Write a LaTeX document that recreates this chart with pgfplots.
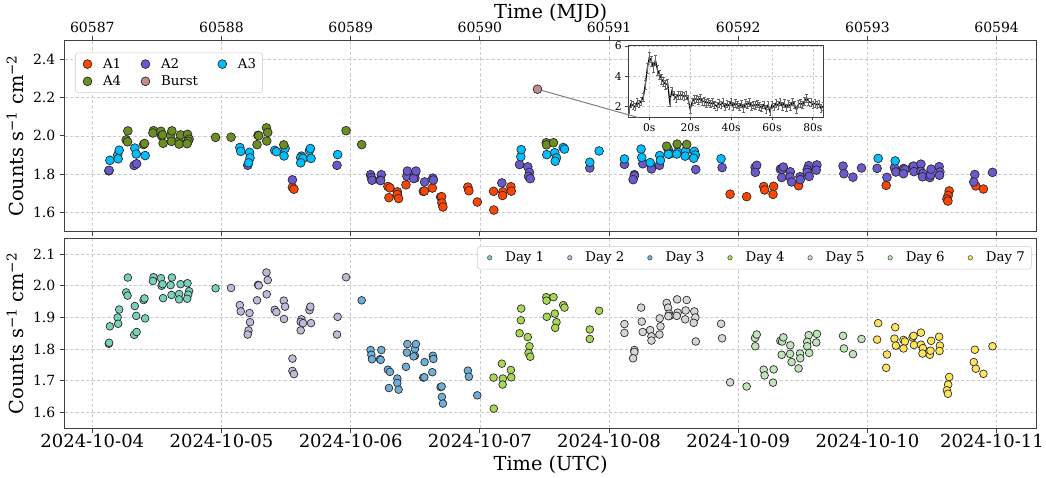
\documentclass[border=0pt]{standalone}
\usepackage{fontspec}
\setmainfont{DejaVu Serif}
\usepackage{pgfplots}
\usepackage{pgfplotstable}
\pgfplotsset{compat=1.18}
\definecolor{cA1}{HTML}{FF4500}
\definecolor{cA2}{HTML}{6A5ACD}
\definecolor{cA3}{HTML}{00BFFF}
\definecolor{cA4}{HTML}{6B8E23}
\definecolor{cB}{HTML}{BC8F8F}
\definecolor{d1}{HTML}{79D0BA}
\definecolor{d2}{HTML}{BEBADA}
\definecolor{d3}{HTML}{6FAED6}
\definecolor{d4}{HTML}{A6D854}
\definecolor{d5}{HTML}{D6D6D6}
\definecolor{d6}{HTML}{BFE4B8}
\definecolor{d7}{HTML}{FFE35A}
% t = days since 2024-10-04 00:00 UTC (= MJD - 60587), y = counts, c = class (A1..A4), d = day
\pgfplotstableread{
t y c d
0.128 1.817 2 1
0.130 1.820 2 1
0.136 1.872 3 1
0.196 1.900 3 1
0.200 1.880 3 1
0.208 1.925 3 1
0.275 2.026 4 1
0.262 1.979 4 1
0.273 1.969 4 1
0.329 1.936 3 1
0.340 1.905 3 1
0.324 1.845 2 1
0.343 1.854 2 1
0.397 1.955 4 1
0.404 1.960 4 1
0.409 1.897 3 1
0.474 2.027 4 1
0.469 2.015 4 1
0.531 2.024 4 1
0.536 2.000 4 1
0.544 2.005 4 1
0.548 1.961 4 1
0.606 2.002 4 1
0.616 2.026 4 1
0.613 1.971 4 1
0.672 1.974 4 1
0.672 1.957 4 1
0.683 2.005 4 1
0.737 2.008 4 1
0.749 1.983 4 1
0.742 1.972 4 1
0.734 1.959 4 1
0.954 1.992 4 1
1.074 1.993 4 2
1.142 1.939 3 2
1.149 1.919 3 2
1.217 1.914 3 2
1.221 1.885 3 2
1.209 1.859 3 2
1.203 1.846 2 2
1.283 2.003 4 2
1.288 2.001 4 2
1.275 1.954 4 2
1.348 2.042 4 2
1.358 2.018 4 2
1.350 1.973 4 2
1.412 1.924 3 2
1.425 1.917 3 2
1.482 1.953 4 2
1.492 1.934 3 2
1.484 1.895 3 2
1.619 1.894 3 2
1.613 1.886 3 2
1.631 1.882 3 2
1.613 1.859 3 2
1.681 1.923 3 2
1.688 1.934 3 2
1.693 1.882 3 2
1.549 1.770 2 2
1.549 1.731 1 2
1.561 1.721 1 2
1.899 1.902 3 2
1.894 1.846 2 2
1.964 2.027 4 2
2.085 1.954 4 3
2.154 1.797 2 3
2.160 1.782 2 3
2.165 1.768 2 3
2.237 1.797 2 3
2.227 1.768 2 3
2.232 1.766 2 3
2.288 1.735 1 3
2.304 1.728 1 3
2.361 1.707 1 3
2.361 1.693 1 3
2.296 1.677 1 3
2.371 1.672 1 3
2.428 1.744 1 3
2.435 1.789 2 3
2.439 1.816 2 3
2.497 1.800 2 3
2.497 1.779 2 3
2.487 1.777 2 3
2.505 1.816 2 3
2.572 1.759 2 3
2.636 1.779 2 3
2.640 1.769 2 3
2.632 1.727 1 3
2.562 1.710 1 3
2.570 1.711 1 3
2.696 1.680 1 3
2.704 1.682 1 3
2.706 1.649 1 3
2.714 1.628 1 3
2.907 1.732 1 3
2.915 1.713 1 3
2.980 1.654 1 3
3.108 1.612 1 4
3.106 1.710 1 4
3.178 1.707 1 4
3.176 1.688 1 4
3.170 1.754 2 4
3.240 1.734 1 4
3.243 1.711 1 4
3.307 1.850 2 4
3.317 1.891 3 4
3.320 1.928 3 4
3.371 1.838 2 4
3.384 1.809 2 4
3.377 1.788 2 4
3.390 1.776 2 4
3.514 1.964 4 4
3.516 1.953 4 4
3.570 1.964 4 4
3.518 1.902 3 4
3.580 1.912 3 4
3.593 1.885 3 4
3.583 1.867 3 4
3.645 1.939 3 4
3.655 1.931 3 4
3.851 1.862 3 4
3.851 1.832 2 4
3.923 1.921 3 4
4.119 1.879 3 5
4.119 1.851 2 5
4.196 1.797 2 5
4.196 1.791 2 5
4.186 1.771 2 5
4.248 1.931 3 5
4.253 1.887 3 5
4.261 1.854 2 5
4.318 1.860 3 5
4.328 1.840 2 5
4.328 1.827 2 5
4.392 1.897 3 5
4.398 1.872 3 5
4.390 1.846 2 5
4.446 1.946 4 5
4.457 1.931 3 5
4.465 1.912 3 5
4.469 1.905 3 5
4.459 1.904 3 5
4.527 1.957 4 5
4.531 1.915 3 5
4.524 1.905 3 5
4.601 1.955 4 5
4.593 1.922 3 5
4.589 1.894 3 5
4.660 1.919 3 5
4.668 1.900 3 5
4.655 1.883 3 5
4.671 1.824 2 5
4.867 1.880 3 5
4.875 1.834 2 5
4.937 1.695 1 5
5.065 1.682 1 6
5.130 1.835 2 6
5.143 1.846 2 6
5.132 1.809 2 6
5.197 1.735 1 6
5.204 1.717 1 6
5.274 1.736 1 6
5.269 1.694 1 6
5.326 1.826 2 6
5.339 1.824 2 6
5.349 1.837 2 6
5.336 1.782 2 6
5.403 1.812 2 6
5.401 1.785 2 6
5.413 1.759 2 6
5.478 1.786 2 6
5.480 1.771 2 6
5.467 1.739 1 6
5.545 1.844 2 6
5.534 1.823 2 6
5.534 1.809 2 6
5.549 1.788 2 6
5.609 1.848 2 6
5.604 1.821 2 6
5.811 1.842 2 6
5.818 1.802 2 6
5.888 1.784 2 6
5.954 1.832 2 6
6.083 1.882 3 7
6.075 1.830 2 7
6.151 1.783 2 7
6.145 1.741 1 7
6.215 1.869 3 7
6.209 1.833 2 7
6.220 1.811 2 7
6.279 1.829 2 7
6.290 1.824 2 7
6.279 1.802 2 7
6.349 1.837 2 7
6.357 1.842 2 7
6.360 1.813 2 7
6.414 1.852 2 7
6.414 1.814 2 7
6.429 1.803 2 7
6.426 1.786 2 7
6.483 1.782 2 7
6.488 1.795 2 7
6.493 1.826 2 7
6.555 1.839 2 7
6.561 1.811 2 7
6.558 1.794 2 7
6.633 1.712 1 7
6.625 1.688 1 7
6.615 1.670 1 7
6.623 1.659 1 7
6.831 1.798 2 7
6.823 1.759 2 7
6.839 1.738 1 7
6.898 1.722 1 7
6.968 1.809 2 7
}\pts
% burst light curve (s, counts, error)
\pgfplotstableread{
s v e
-10 1.75 0.25
-9 2.15 0.25
-8 2.05 0.25
-7 1.95 0.25
-6 2.25 0.25
-5 2.15 0.25
-4 2.35 0.26
-3 2.60 0.27
-2 3.40 0.30
-1 4.50 0.33
0 5.25 0.35
1 5.00 0.35
2 4.60 0.33
3 5.05 0.35
4 4.40 0.33
5 4.10 0.32
6 3.80 0.31
7 3.60 0.30
8 3.45 0.30
9 3.50 0.30
10 2.30 0.27
11 3.00 0.28
12 2.70 0.27
13 2.55 0.27
14 2.75 0.27
15 2.70 0.27
16 2.75 0.27
17 2.65 0.27
18 2.70 0.27
19 2.45 0.26
20 1.80 0.25
21 2.30 0.26
22 2.45 0.26
23 2.50 0.26
24 2.40 0.26
25 2.55 0.26
26 2.30 0.26
27 2.35 0.26
28 2.20 0.25
29 2.30 0.26
30 2.15 0.25
31 2.25 0.25
32 2.10 0.25
33 2.00 0.25
34 2.20 0.25
35 2.10 0.25
36 2.25 0.25
37 1.95 0.25
38 2.15 0.25
39 2.05 0.25
40 2.30 0.25
41 2.00 0.25
42 2.20 0.25
43 2.10 0.25
44 1.95 0.25
45 2.15 0.25
46 1.85 0.25
47 2.20 0.25
48 2.10 0.25
49 2.25 0.25
50 2.00 0.25
51 2.10 0.25
52 2.05 0.25
53 2.15 0.25
54 2.00 0.25
55 1.90 0.25
56 2.10 0.25
57 1.80 0.25
58 2.05 0.25
59 1.65 0.25
60 2.10 0.25
61 1.95 0.25
62 2.20 0.25
63 2.05 0.25
64 2.30 0.25
65 2.00 0.25
66 2.20 0.25
67 1.90 0.25
68 2.15 0.25
69 2.00 0.25
70 2.30 0.25
71 2.10 0.25
72 1.75 0.25
73 2.15 0.25
74 2.20 0.25
75 2.10 0.25
76 2.35 0.26
77 2.55 0.26
78 2.30 0.26
79 2.25 0.25
80 2.10 0.25
81 2.20 0.25
82 2.10 0.25
83 2.15 0.25
84 1.85 0.25
85 2.00 0.25
}\burst
\pgfplotsset{
  base/.style={scale only axis, width=729pt, xmin=-0.214, xmax=7.310,
    xtick={0,1,2,3,4,5,6,7},
    grid=major, grid style={gray!40, line width=0.45pt, dash pattern=on 2.5pt off 1.5pt},
    axis line style={black!75, line width=0.75pt},
    tick align=outside, major tick length=3.5pt,
    tick style={black!75, line width=0.75pt},
    /pgf/number format/assume math mode=true,
    ylabel={Counts s\textsuperscript{−1} cm\textsuperscript{−2}},
    label style={font=\fontsize{14.5}{17}\selectfont},
    yticklabel style={font=\fontsize{10.5}{12}\selectfont,
      /pgf/number format/fixed, /pgf/number format/fixed zerofill,
      /pgf/number format/precision=1},
    legend cell align=left,
    legend image code/.code={\path (0pt,0pt) (15.5pt,0pt); \draw[##1] plot coordinates {(6pt,0pt)};},
  },
  pt/.style={only marks, mark=*, mark size=3.3pt,
    mark options={draw=black!85, fill=#1, line width=0.5pt}},
  bpt/.style={only marks, mark=*, mark size=2.9pt,
    mark options={draw=black!85, fill=#1, line width=0.5pt}},
  lpt/.style={only marks, mark=*, mark size=1.7pt,
    mark options={draw=black!70, fill=#1, line width=0.4pt}},
}
\begin{document}
\begin{tikzpicture}
\path[use as bounding box] (-48.5pt,-36.6pt) rectangle (736pt,321.2pt);
% ---------- top panel ----------
\begin{axis}[base, at={(0pt,147.6pt)}, anchor=south west, height=143.4pt,
  ymin=1.5, ymax=2.5, ytick={1.6,1.8,2.0,2.2,2.4},
  ytick pos=left, xtick pos=both, xticklabel pos=upper,
  xticklabels={60587,60588,60589,60590,60591,60592,60593,60594},
  xticklabel style={font=\fontsize{10.5}{12}\selectfont, yshift=-1pt},
  xlabel={Time (MJD)},
  xlabel style={at={(axis description cs:0.5,1)}, anchor=center, yshift=20.5pt},
  legend style={at={(0.0106,0.9357)}, anchor=north west, legend columns=3,
    font=\fontsize{10}{12}\selectfont, draw=black!20, rounded corners=2pt,
    /tikz/every even column/.append style={column sep=10pt}},
]
\addplot[pt=cA1, forget plot, restrict expr to domain={\thisrow{c}}{1:1}] table[x=t,y=y]{\pts};
\addplot[pt=cA2, forget plot, restrict expr to domain={\thisrow{c}}{2:2}] table[x=t,y=y]{\pts};
\addplot[pt=cA3, forget plot, restrict expr to domain={\thisrow{c}}{3:3}] table[x=t,y=y]{\pts};
\addplot[pt=cA4, forget plot, restrict expr to domain={\thisrow{c}}{4:4}] table[x=t,y=y]{\pts};
\addplot[pt=cB, forget plot] coordinates {(3.446,2.244)};
\coordinate (bA) at (axis cs:3.446,2.244);
\coordinate (bB) at (axis cs:4.225,2.096);
\addlegendimage{pt=cA1}\addlegendentry{A1}
\addlegendimage{pt=cA2}\addlegendentry{A2}
\addlegendimage{pt=cA3}\addlegendentry{A3}
\addlegendimage{pt=cA4}\addlegendentry{A4}
\addlegendimage{pt=cB}\addlegendentry{Burst}
\end{axis}
% ---------- inset ----------
\begin{axis}[at={(422.7pt,233.4pt)}, anchor=south west, scale only axis,
  width=146.25pt, height=53.5pt,
  xmin=-10.3, xmax=85.1, ymin=1.28, ymax=6.02,
  xtick={0,20,40,60,80}, xticklabels={0s,20s,40s,60s,80s}, ytick={2,4,6},
  tick pos=left, tick align=outside, major tick length=2.5pt,
  tick style={black!75, line width=0.6pt},
  axis line style={black!75, line width=0.7pt},
  grid=major, grid style={gray!40, line width=0.4pt, dash pattern=on 2pt off 1.5pt},
  axis background/.style={fill=white},
  tick label style={font=\fontsize{8}{9.5}\selectfont},
  /pgf/number format/assume math mode=true,
  xticklabel style={yshift=1pt}, yticklabel style={xshift=1pt},
]
\addplot[black, line width=0.9pt, mark=none,
  error bars/.cd, y dir=both, y explicit,
  error bar style={black!60, line width=0.4pt},
  error mark options={rotate=90, mark size=1pt, black!60, line width=0.4pt}]
  table[x=s, y=v, y error=e]{\burst};
\end{axis}
\draw[gray, line width=0.75pt, shorten <=3.3pt] (bA) -- (bB);
% ---------- bottom panel ----------
\begin{axis}[base, at={(0pt,0pt)}, anchor=south west, height=142.5pt,
  ymin=1.55, ymax=2.15, ytick={1.6,1.7,1.8,1.9,2.0,2.1},
  tick pos=left,
  xticklabels={2024-10-04,2024-10-05,2024-10-06,2024-10-07,2024-10-08,2024-10-09,2024-10-10,\hspace*{-7pt}2024-10-11},
  xticklabel style={font=\fontsize{13.5}{16}\selectfont, yshift=3pt},
  xlabel={Time (UTC)},
  xlabel style={at={(axis description cs:0.5,0)}, anchor=center, yshift=-27pt},
  legend style={at={(0.9949,0.958)}, anchor=north east, legend columns=7,
    font=\fontsize{10}{12}\selectfont, draw=black!20, rounded corners=2pt,
    /tikz/every even column/.append style={column sep=11pt}},
]
\addplot[bpt=d1, forget plot, restrict expr to domain={\thisrow{d}}{1:1}] table[x=t,y=y]{\pts};
\addplot[bpt=d2, forget plot, restrict expr to domain={\thisrow{d}}{2:2}] table[x=t,y=y]{\pts};
\addplot[bpt=d3, forget plot, restrict expr to domain={\thisrow{d}}{3:3}] table[x=t,y=y]{\pts};
\addplot[bpt=d4, forget plot, restrict expr to domain={\thisrow{d}}{4:4}] table[x=t,y=y]{\pts};
\addplot[bpt=d5, forget plot, restrict expr to domain={\thisrow{d}}{5:5}] table[x=t,y=y]{\pts};
\addplot[bpt=d6, forget plot, restrict expr to domain={\thisrow{d}}{6:6}] table[x=t,y=y]{\pts};
\addplot[bpt=d7, forget plot, restrict expr to domain={\thisrow{d}}{7:7}] table[x=t,y=y]{\pts};
\addlegendimage{lpt=d1}\addlegendentry{Day 1}
\addlegendimage{lpt=d2}\addlegendentry{Day 2}
\addlegendimage{lpt=d3}\addlegendentry{Day 3}
\addlegendimage{lpt=d4}\addlegendentry{Day 4}
\addlegendimage{lpt=d5}\addlegendentry{Day 5}
\addlegendimage{lpt=d6}\addlegendentry{Day 6}
\addlegendimage{lpt=d7}\addlegendentry{Day 7}
\end{axis}
\end{tikzpicture}
\end{document}
